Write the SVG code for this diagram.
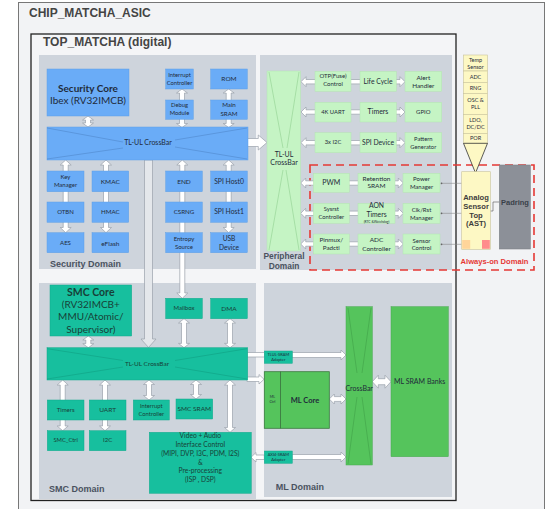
<svg xmlns="http://www.w3.org/2000/svg" width="546" height="509" viewBox="0 0 546 509">
  <style>
    .t { font-family: Lato, "Liberation Sans", sans-serif; text-anchor: middle; fill: #1f2b3a; }
    .tb { font-family: Lato, "Liberation Sans", sans-serif; text-anchor: middle; font-weight: bold; fill: #1f2b3a; }
    .title { font-family: "Liberation Sans", Arial, sans-serif; font-weight: bold; fill: #444; font-size: 12px; }
    .dom { font-family: "Liberation Sans", Arial, sans-serif; font-weight: bold; fill: #4a5260; font-size: 9px; }
    .domain { fill: #ced4dc; }
    .blue { fill: #6aacf7; stroke: #5f9fe6; stroke-width: 0.5; }
    .lg { fill: #c5f4c4; stroke: #b3e4b2; stroke-width: 0.5; }
    .teal { fill: #17bf9e; stroke: #12a98b; stroke-width: 0.5; }
    .mlg { fill: #55c45c; stroke: #46a84c; stroke-width: 0.5; }
    .ast { fill: #fdf8c4; stroke: #c9c49c; stroke-width: 0.6; }
    .ar { fill: #ffffff; stroke: #9aa1aa; stroke-width: 0.7; stroke-linejoin: round; }
    .xl { stroke-width: 0.5; fill: none; }
    .tt { fill: #173f38; }
    .wire { stroke: #888; stroke-width: 0.6; fill: none; }
  </style>

  <!-- chip and top-level containers -->
  <g id="containers">
    <rect x="18.5" y="2.5" width="526" height="510" fill="#f2f3f5" stroke="#777" stroke-width="1"/>
    <text class="title" x="29" y="17">CHIP_MATCHA_ASIC</text>
    <rect x="31" y="34" width="425" height="466.5" fill="#f4f5f7" stroke="#222" stroke-width="1.3"/>
    <text class="title" x="43" y="46">TOP_MATCHA (digital)</text>
    <rect class="domain" x="39" y="55" width="217" height="214"/>
    <rect class="domain" x="260" y="55" width="192" height="215"/>
    <rect class="domain" x="39" y="283" width="217" height="216"/>
    <rect class="domain" x="264" y="283" width="188" height="214"/>
    <text class="dom" x="50" y="266.5">Security Domain</text>
    <text class="dom" x="284" y="258.5" text-anchor="middle" style="font-size:8.4px">Peripheral</text>
    <text class="dom" x="284" y="269" text-anchor="middle" style="font-size:8.4px">Domain</text>
    <text class="dom" x="49" y="491.5">SMC Domain</text>
    <text class="dom" x="275.7" y="489.5">ML Domain</text>
    <rect x="310" y="165" width="224" height="105" fill="none" stroke="#e53935" stroke-width="1.6" stroke-dasharray="8 5"/>
    <text x="494.5" y="264" text-anchor="middle" style="font-family:'Liberation Sans',Arial,sans-serif;font-weight:bold;font-size:7.6px;fill:#e53935">Always-on Domain</text>
  </g>

  <!-- connectors -->
  <g id="connectors">
    <!-- security domain -->
    <path class="ar" d="M88 116 L93.5 120 L90.5 120 L90.5 123 L93.5 123 L88 127 L82.5 123 L85.5 123 L85.5 120 L82.5 120 Z"/>
    <path class="ar" d="M182 89 L187.5 93 L184.5 93 L184.5 123.5 L187.5 123.5 L182 127.5 L176.5 123.5 L179.5 123.5 L179.5 93 L176.5 93 Z"/>
    <path class="ar" d="M228.7 89 L234.2 93 L231.2 93 L231.2 123.5 L234.2 123.5 L228.7 127.5 L223.2 123.5 L226.2 123.5 L226.2 93 L223.2 93 Z"/>
    <path class="ar" d="M65.7 160 L71.2 165 L68.2 165 L68.2 227.5 L71.2 227.5 L65.7 232.7 L60.2 227.5 L63.2 227.5 L63.2 165 L60.2 165 Z"/>
    <path class="ar" d="M106 160 L111.5 165 L108.5 165 L108.5 227.5 L111.5 227.5 L106 232.7 L100.5 227.5 L103.5 227.5 L103.5 165 L100.5 165 Z"/>
    <path class="ar" d="M228.7 160 L234.2 165 L231.2 165 L231.2 227.5 L234.2 227.5 L228.7 232.7 L223.2 227.5 L226.2 227.5 L226.2 165 L223.2 165 Z"/>
    <path class="ar" d="M182.3 160 L187.8 165 L184.8 165 L184.8 293 L187.8 293 L182.3 298.3 L176.8 293 L179.8 293 L179.8 165 L176.8 165 Z"/>
    <!-- security crossbar down to SMC crossbar -->
    <path d="M144.5 160 L152.5 160 L152.5 339 L156 339 L148.5 347.5 L141 339 L144.5 339 Z" fill="#e4e7eb" stroke="#9aa1aa" stroke-width="0.7"/>
    <!-- security crossbar to peripheral crossbar -->
    <path class="ar" d="M247 138.5 L258.3 138.5 L258.3 135 L267 142.5 L258.3 150 L258.3 146.5 L247 146.5 Z"/>

    <!-- peripheral rows -->
    <path class="ar" d="M301 81.7 L306 76.7 L306 79.5 L400 79.5 L400 76.7 L405 81.7 L400 86.7 L400 83.9 L306 83.9 L306 86.7 Z"/>
    <path class="ar" d="M301 112 L306 107 L306 109.8 L400 109.8 L400 107 L405 112 L400 117 L400 114.2 L306 114.2 L306 117 Z"/>
    <path class="ar" d="M301 142.7 L306 137.7 L306 140.5 L400 140.5 L400 137.7 L405 142.7 L400 147.7 L400 144.9 L306 144.9 L306 147.7 Z"/>
    <path class="ar" d="M300.7 183 L305.7 178 L305.7 180.8 L398.3 180.8 L398.3 178 L403.3 183 L398.3 188 L398.3 185.2 L305.7 185.2 L305.7 188 Z"/>
    <path class="ar" d="M300.7 213.3 L305.7 208.3 L305.7 211.1 L398.3 211.1 L398.3 208.3 L403.3 213.3 L398.3 218.3 L398.3 215.5 L305.7 215.5 L305.7 218.3 Z"/>
    <path class="ar" d="M300.7 244 L305.7 239 L305.7 241.8 L398.3 241.8 L398.3 239 L403.3 244 L398.3 249 L398.3 246.2 L305.7 246.2 L305.7 249 Z"/>
    <!-- AST control wires -->
    <path class="wire" d="M441 183.3 H461.7 M441 213.3 H461.7 M441 244.3 H461.7"/>
    <circle cx="441.5" cy="183.3" r="0.9" fill="#666"/>
    <circle cx="441.5" cy="213.3" r="0.9" fill="#666"/>
    <circle cx="441.5" cy="244.3" r="0.9" fill="#666"/>
    <path d="M499.3 202 H493 V211 H490.3" stroke="#555" stroke-width="0.6" fill="none"/>

    <!-- SMC domain -->
    <path class="ar" d="M88.3 336 L93.8 340 L90.8 340 L90.8 343.7 L93.8 343.7 L88.3 347.7 L82.8 343.7 L85.8 343.7 L85.8 340 L82.8 340 Z"/>
    <path class="ar" d="M184 318.7 L189.5 323 L186.5 323 L186.5 343.4 L189.5 343.4 L184 347.7 L178.5 343.4 L181.5 343.4 L181.5 323 L178.5 323 Z"/>
    <path class="ar" d="M230 318.7 L235.5 323 L232.5 323 L232.5 343.4 L235.5 343.4 L230 347.7 L224.5 343.4 L227.5 343.4 L227.5 323 L224.5 323 Z"/>
    <path class="ar" d="M62.7 380 L68.2 385 L65.2 385 L65.2 426 L68.2 426 L62.7 430.7 L57.2 426 L60.2 426 L60.2 385 L57.2 385 Z"/>
    <path class="ar" d="M105 380 L110.5 385 L107.5 385 L107.5 426 L110.5 426 L105 430.7 L99.5 426 L102.5 426 L102.5 385 L99.5 385 Z"/>
    <path class="ar" d="M149 380 L154.5 384.5 L151.5 384.5 L151.5 395.5 L154.5 395.5 L149 400 L143.5 395.5 L146.5 395.5 L146.5 384.5 L143.5 384.5 Z"/>
    <path class="ar" d="M196 380 L201.5 384.5 L198.5 384.5 L198.5 394.5 L201.5 394.5 L196 399 L190.5 394.5 L193.5 394.5 L193.5 384.5 L190.5 384.5 Z"/>
    <path class="ar" d="M230 380 L235.5 385 L232.5 385 L232.5 427.5 L235.5 427.5 L230 432.3 L224.5 427.5 L227.5 427.5 L227.5 385 L224.5 385 Z"/>

    <!-- SMC to ML links -->
    <rect class="ar" x="247" y="352.5" width="17.5" height="4.5"/>
    <path class="ar" d="M292 352.5 L341 352.5 L341 350 L346 355 L341 360 L341 357.5 L292 357.5 Z"/>
    <path class="ar" d="M247 377 L259 377 L259 374.5 L264 379.3 L259 384 L259 381.5 L247 381.5 Z"/>
    <path class="ar" d="M264.3 455 L256 455 L256 452.5 L251 457.3 L256 462 L256 459.5 L264.3 459.5 Z"/>
    <path class="ar" d="M292 454.5 L341 454.5 L341 452 L346 457 L341 462 L341 459.5 L292 459.5 Z"/>
    <path class="ar" d="M329.3 399 L334.3 394 L334.3 396.6 L341 396.6 L341 394 L346 399 L341 404 L341 401.4 L334.3 401.4 L334.3 404 Z"/>
    <path class="ar" d="M372.3 381.7 L378.3 375.2 L378.3 378.7 L385 378.7 L385 375.2 L391 381.7 L385 388.2 L385 384.7 L378.3 384.7 L378.3 388.2 Z"/>
  </g>

  <!-- security domain nodes -->
  <g id="security-core">
    <rect class="blue" x="47" y="69" width="82" height="47"/>
    <text class="tb" x="88" y="91.5" font-size="10">Security Core</text>
    <text class="t" x="88" y="103.5" font-size="10">Ibex (RV32IMCB)</text>
  </g>
  <g id="sec-interrupt-controller">
    <rect class="blue" x="165.7" y="69" width="27.6" height="20"/>
    <text class="t" x="179.5" y="76.7" font-size="5.8">Interrupt</text>
    <text class="t" x="179.5" y="84.7" font-size="5.8">Controller</text>
  </g>
  <g id="rom">
    <rect class="blue" x="210.7" y="69" width="36.6" height="20"/>
    <text class="t" x="229" y="81" font-size="6.5">ROM</text>
  </g>
  <g id="debug-module">
    <rect class="blue" x="165.7" y="100" width="27.6" height="19.3"/>
    <text class="t" x="179.5" y="107.3" font-size="5.8">Debug</text>
    <text class="t" x="179.5" y="115.3" font-size="5.8">Module</text>
  </g>
  <g id="main-sram">
    <rect class="blue" x="210.7" y="100" width="36.6" height="19.3"/>
    <text class="t" x="229" y="107.3" font-size="6.2">Main</text>
    <text class="t" x="229" y="115.5" font-size="6.2">SRAM</text>
  </g>
  <g id="sec-crossbar">
    <rect class="blue" x="47" y="127" width="201" height="33"/>
    <path class="xl" stroke="#4a80c2" d="M47 128 L123 142 M47 159 L123 148 M175 140 L247 128 M175 147 L247 159"/>
    <text class="t" x="148" y="145.3" font-size="7" fill="#2a3f5a">TL-UL CrossBar</text>
  </g>
  <g id="key-manager">
    <rect class="blue" x="47" y="171" width="37" height="20.7"/>
    <text class="t" x="65.5" y="179.4" font-size="6">Key</text>
    <text class="t" x="65.5" y="187.1" font-size="6">Manager</text>
  </g>
  <g id="kmac">
    <rect class="blue" x="92" y="171" width="36.7" height="20.7"/>
    <text class="t" x="110.3" y="184" font-size="6.5">KMAC</text>
  </g>
  <g id="otbn">
    <rect class="blue" x="47" y="202" width="37" height="20.3"/>
    <text class="t" x="65.5" y="214.2" font-size="6">OTBN</text>
  </g>
  <g id="hmac">
    <rect class="blue" x="92" y="202" width="36.7" height="20.3"/>
    <text class="t" x="110.3" y="214.2" font-size="6.2">HMAC</text>
  </g>
  <g id="aes">
    <rect class="blue" x="47" y="232.7" width="37" height="20"/>
    <text class="t" x="65.5" y="244.9" font-size="6">AES</text>
  </g>
  <g id="eflash">
    <rect class="blue" x="92" y="232.7" width="36.7" height="20"/>
    <text class="t" x="110.3" y="245.6" font-size="6.5">eFlash</text>
  </g>
  <g id="end">
    <rect class="blue" x="165.7" y="171" width="36.6" height="20.7"/>
    <text class="t" x="184" y="184" font-size="6.5">END</text>
  </g>
  <g id="spi-host0">
    <rect class="blue" x="210.7" y="171" width="36.6" height="20.7"/>
    <text class="t" x="229" y="184" font-size="6.8">SPI Host0</text>
  </g>
  <g id="csrng">
    <rect class="blue" x="165.7" y="202" width="36.6" height="20.3"/>
    <text class="t" x="184" y="214.2" font-size="6.2">CSRNG</text>
  </g>
  <g id="spi-host1">
    <rect class="blue" x="210.7" y="202" width="36.6" height="20.3"/>
    <text class="t" x="229" y="214.4" font-size="6.8">SPI Host1</text>
  </g>
  <g id="entropy-source">
    <rect class="blue" x="165.7" y="232.7" width="36.6" height="20"/>
    <text class="t" x="184" y="241.1" font-size="6">Entropy</text>
    <text class="t" x="184" y="248.8" font-size="6">Source</text>
  </g>
  <g id="usb-device">
    <rect class="blue" x="210.7" y="232.7" width="36.6" height="20"/>
    <text class="t" x="229" y="240.6" font-size="6.6">USB</text>
    <text class="t" x="229" y="249.6" font-size="6.6">Device</text>
  </g>

  <!-- peripheral domain nodes -->
  <g id="periph-crossbar">
    <rect class="lg" x="267" y="71" width="33.5" height="180"/>
    <path class="xl" stroke="#86c886" d="M269 72 L283 148 M299 72 L287 148 M283 170 L269 250 M286 170 L299 250"/>
    <text class="t" x="284" y="156.5" font-size="7" fill="#4a4f55">TL-UL</text>
    <text class="t" x="284" y="164.5" font-size="7" fill="#4a4f55">CrossBar</text>
  </g>
  <g id="otp-control">
    <rect class="lg" x="315" y="71.3" width="36" height="20"/>
    <text class="t" x="333" y="78.1" font-size="6">OTP(Fuse)</text>
    <text class="t" x="333" y="86.4" font-size="6">Control</text>
  </g>
  <g id="life-cycle">
    <rect class="lg" x="360" y="71.3" width="36.3" height="20"/>
    <text class="t" x="378" y="83.6" font-size="6.8">Life Cycle</text>
  </g>
  <g id="alert-handler">
    <rect class="lg" x="405" y="71.3" width="36.7" height="20"/>
    <text class="t" x="423.3" y="79.5" font-size="6.4">Alert</text>
    <text class="t" x="423.3" y="87.5" font-size="6.4">Handler</text>
  </g>
  <g id="uart-4k">
    <rect class="lg" x="315" y="102.3" width="36" height="19.7"/>
    <text class="t" x="333" y="114" font-size="5.8">4K UART</text>
  </g>
  <g id="periph-timers">
    <rect class="lg" x="360" y="102.3" width="36.3" height="19.7"/>
    <text class="t" x="378" y="114.4" font-size="7">Timers</text>
  </g>
  <g id="gpio">
    <rect class="lg" x="405" y="102.3" width="36.7" height="19.7"/>
    <text class="t" x="423.3" y="114.1" font-size="6">GPIO</text>
  </g>
  <g id="i2c-3x">
    <rect class="lg" x="315" y="132.7" width="36" height="20"/>
    <text class="t" x="333" y="144.4" font-size="5.8">3x I2C</text>
  </g>
  <g id="spi-device">
    <rect class="lg" x="360" y="132.7" width="36.3" height="20"/>
    <text class="t" x="378" y="144.7" font-size="6.8">SPI Device</text>
  </g>
  <g id="pattern-generator">
    <rect class="lg" x="405" y="132.7" width="36.7" height="20"/>
    <text class="t" x="423.3" y="141" font-size="5.8">Pattern</text>
    <text class="t" x="423.3" y="148.7" font-size="5.8">Generator</text>
  </g>

  <!-- always-on nodes -->
  <g id="pwm">
    <rect class="lg" x="313.3" y="173.3" width="36" height="19"/>
    <text class="t" x="331.3" y="185.2" font-size="7">PWM</text>
  </g>
  <g id="retention-sram">
    <rect class="lg" x="358" y="173.3" width="37" height="19"/>
    <text class="t" x="376.5" y="180.6" font-size="6.5">Retention</text>
    <text class="t" x="376.5" y="188.3" font-size="6.5">SRAM</text>
  </g>
  <g id="power-manager">
    <rect class="lg" x="403" y="173.3" width="37" height="19"/>
    <text class="t" x="421.5" y="181.4" font-size="6">Power</text>
    <text class="t" x="421.5" y="188.8" font-size="6">Manager</text>
  </g>
  <g id="sysrst-controller">
    <rect class="lg" x="313.3" y="203.3" width="36" height="20"/>
    <text class="t" x="331.3" y="211.3" font-size="5.8">Sysrst</text>
    <text class="t" x="331.3" y="219.3" font-size="5.8">Controller</text>
  </g>
  <g id="aon-timers">
    <rect class="lg" x="358" y="203.3" width="37" height="20"/>
    <text class="t" x="376.5" y="208.4" font-size="6.8">AON</text>
    <text class="t" x="376.5" y="216.7" font-size="6.8">Timers</text>
    <text class="t" x="376.5" y="223" font-size="3.3">(RTC &amp;Watchdog)</text>
  </g>
  <g id="clkrst-manager">
    <rect class="lg" x="403" y="203.3" width="37" height="20"/>
    <text class="t" x="421.5" y="212.1" font-size="6">Clk/Rst</text>
    <text class="t" x="421.5" y="219.8" font-size="6">Manager</text>
  </g>
  <g id="pinmux-padctl">
    <rect class="lg" x="313.3" y="234" width="36" height="20"/>
    <text class="t" x="331.3" y="242.2" font-size="6.3">Pinmux/</text>
    <text class="t" x="331.3" y="249.9" font-size="6.3">Padctl</text>
  </g>
  <g id="adc-controller">
    <rect class="lg" x="358" y="234" width="37" height="20"/>
    <text class="t" x="376.5" y="242.3" font-size="6.5">ADC</text>
    <text class="t" x="376.5" y="250.6" font-size="6.5">Controller</text>
  </g>
  <g id="sensor-control">
    <rect class="lg" x="403" y="234" width="37" height="20"/>
    <text class="t" x="421.5" y="242.8" font-size="6">Sensor</text>
    <text class="t" x="421.5" y="250.4" font-size="6">Control</text>
  </g>

  <!-- analog sensor top -->
  <g id="ast-blocks">
    <rect class="ast" x="463.5" y="55" width="24" height="16"/>
    <text class="t" x="475.5" y="61.8" font-size="5.5" fill="#333">Temp</text>
    <text class="t" x="475.5" y="68.6" font-size="5.5" fill="#333">Sensor</text>
    <rect class="ast" x="463.5" y="71" width="24" height="11.3"/>
    <text class="t" x="475.5" y="78.7" font-size="5.5" fill="#333">ADC</text>
    <rect class="ast" x="463.5" y="82.3" width="24" height="11"/>
    <text class="t" x="475.5" y="89.8" font-size="5.5" fill="#333">RNG</text>
    <rect class="ast" x="463.5" y="93.3" width="24" height="21"/>
    <text class="t" x="475.5" y="101.5" font-size="5.5" fill="#333">OSC &amp;</text>
    <text class="t" x="475.5" y="109.2" font-size="5.5" fill="#333">PLL</text>
    <rect class="ast" x="463.5" y="114.3" width="24" height="19"/>
    <text class="t" x="475.5" y="121.7" font-size="5.5" fill="#333">LDO,</text>
    <text class="t" x="475.5" y="129.2" font-size="5.5" fill="#333">DC/DC</text>
    <rect class="ast" x="463.5" y="133.3" width="24" height="10"/>
    <text class="t" x="475.5" y="140.3" font-size="5.5" fill="#333">POR</text>
    <path d="M463.5 143.3 L487.5 143.3 L475.5 173 Z" fill="#fdf8c4" stroke="#333" stroke-width="0.8" stroke-linejoin="round"/>
  </g>
  <g id="ast">
    <rect class="ast" x="461.7" y="171.7" width="28.6" height="77.6"/>
    <rect x="462.2" y="240" width="8" height="8.8" fill="#ffd59a"/>
    <rect x="482" y="240" width="7.8" height="8.8" fill="#ff8c8c"/>
    <g style="font-family:'Liberation Sans',Arial,sans-serif;font-weight:bold;font-size:7.6px;fill:#3d3d3d;text-anchor:middle">
      <text x="476" y="199.5">Analog</text>
      <text x="476" y="208.5">Sensor</text>
      <text x="476" y="217.6">Top</text>
      <text x="476" y="226.2">(AST)</text>
    </g>
  </g>
  <g id="padring">
    <rect x="499.3" y="165" width="31" height="84" fill="#8c9098" stroke="#7c8088" stroke-width="0.6"/>
    <text x="515" y="204.5" text-anchor="middle" style="font-family:'Liberation Sans',Arial,sans-serif;font-weight:bold;font-size:7.5px;fill:#394049">Padring</text>
  </g>

  <!-- SMC domain nodes -->
  <g id="smc-core">
    <rect class="teal" x="50" y="285" width="81.7" height="51"/>
    <text class="tb tt" x="90.8" y="296" font-size="10.5">SMC Core</text>
    <text class="t tt" x="90.8" y="308" font-size="10">(RV32IMCB+</text>
    <text class="t tt" x="90.8" y="320.3" font-size="10">MMU/Atomic/</text>
    <text class="t tt" x="90.8" y="332.6" font-size="10">Supervisor)</text>
  </g>
  <g id="mailbox">
    <rect class="teal" x="165.7" y="298.3" width="36.6" height="20.4"/>
    <text class="t tt" x="184" y="310.4" font-size="6">Mailbox</text>
  </g>
  <g id="dma">
    <rect class="teal" x="210.7" y="298.3" width="36.6" height="20.4"/>
    <text class="t tt" x="229" y="310.6" font-size="6.5">DMA</text>
  </g>
  <g id="smc-crossbar">
    <rect class="teal" x="47" y="347.7" width="200.7" height="32.3"/>
    <path class="xl" stroke="#0f9a7e" d="M47 348.7 L123 360.5 M47 379 L123 367 M175 360.5 L247 348.7 M175 367 L247 379"/>
    <text class="t tt" x="147" y="365.6" font-size="6.5">TL-UL CrossBar</text>
  </g>
  <g id="smc-timers">
    <rect class="teal" x="47.3" y="400" width="36.7" height="20"/>
    <text class="t tt" x="65.6" y="412.1" font-size="6">Timers</text>
  </g>
  <g id="uart">
    <rect class="teal" x="89.3" y="400" width="36.7" height="20"/>
    <text class="t tt" x="107.6" y="412.3" font-size="6.5">UART</text>
  </g>
  <g id="smc-interrupt-controller">
    <rect class="teal" x="133.3" y="400" width="36" height="20"/>
    <text class="t tt" x="151.3" y="407.7" font-size="5.8">Interrupt</text>
    <text class="t tt" x="151.3" y="416" font-size="5.8">Controller</text>
  </g>
  <g id="smc-sram">
    <rect class="teal" x="176" y="399" width="36.7" height="20"/>
    <text class="t tt" x="194.3" y="411.3" font-size="6.5">SMC SRAM</text>
  </g>
  <g id="smc-ctrl">
    <rect class="teal" x="47.3" y="430.7" width="36.7" height="20"/>
    <text class="t tt" x="65.6" y="442" font-size="5.8">SMC_Ctrl</text>
  </g>
  <g id="i2c">
    <rect class="teal" x="89.3" y="430.7" width="36.7" height="20"/>
    <text class="t tt" x="107.6" y="442.1" font-size="6">I2C</text>
  </g>
  <g id="video-audio">
    <rect class="teal" x="149.3" y="432.3" width="102" height="61"/>
    <g class="t tt" font-size="6.7">
      <text x="200.3" y="438.4">Video +  Audio</text>
      <text x="200.3" y="447.3">Interface Control</text>
      <text x="200.3" y="455.6">(MIPI, DVP, I3C, PDM, I2S)</text>
      <text x="200.3" y="464.6">&amp;</text>
      <text x="200.3" y="473.3">Pre-processing</text>
      <text x="200.3" y="481.6">(ISP , DSP)</text>
    </g>
  </g>

  <!-- ML domain nodes -->
  <g id="tlul-sram-adapter">
    <rect class="teal" x="264.3" y="351" width="28" height="12.3"/>
    <text class="t" x="278.3" y="356.3" font-size="4" fill="#2b6a80">TLUL-SRAM</text>
    <text class="t" x="278.3" y="361.3" font-size="4" fill="#2b6a80">Adapter</text>
  </g>
  <g id="axi4-sram-adapter">
    <rect class="teal" x="264.3" y="451" width="28" height="12.3"/>
    <text class="t" x="278.3" y="456.3" font-size="4" fill="#2b6a80">AXI4-SRAM</text>
    <text class="t" x="278.3" y="461.3" font-size="4" fill="#2b6a80">Adapter</text>
  </g>
  <g id="ml-core">
    <rect x="264.3" y="371.7" width="65" height="56.6" fill="#55c45c" stroke="#3a7a3e" stroke-width="0.8"/>
    <line x1="280.5" y1="371.7" x2="280.5" y2="428.3" stroke="#3a6e3d" stroke-width="0.8"/>
    <text class="t" x="272.4" y="398.2" font-size="3.6" fill="#234a26">ML</text>
    <text class="t" x="272.4" y="403" font-size="3.6" fill="#234a26">Ctrl</text>
    <text class="tb" x="305" y="402.5" font-size="7.5" fill="#111">ML Core</text>
  </g>
  <g id="ml-crossbar">
    <rect class="mlg" x="346" y="306.7" width="26.3" height="158.3"/>
    <path class="xl" stroke="#3d9a44" d="M348 308 L357 373 M371 308 L362 373 M357 397 L348 464 M362 397 L371 464"/>
    <text class="t" x="359.2" y="390.6" font-size="7" fill="#4d5a4d">CrossBar</text>
  </g>
  <g id="ml-sram-banks">
    <rect class="mlg" x="391" y="306.7" width="57.3" height="150"/>
    <text class="t" x="419.7" y="384.2" font-size="7" fill="#22302a">ML SRAM Banks</text>
  </g>
</svg>
